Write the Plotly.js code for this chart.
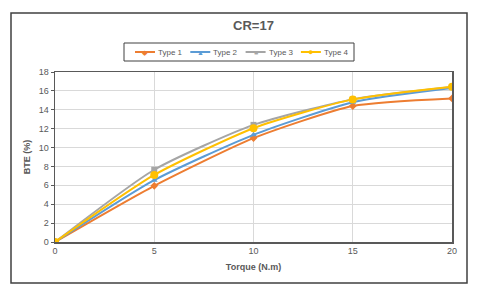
<!DOCTYPE html>
<html><head><meta charset="utf-8">
<script src="https://cdn.plot.ly/plotly-3.0.1.min.js"></script>
<style>html,body{margin:0;padding:0;background:#fff;}#c{width:480px;height:295px;}</style>
</head><body><div id="c"></div>
<script>
const torque = [0, 5, 10, 15, 20];
const type1 = [0, 5.95, 11.0, 14.4, 15.2];
const type2 = [0, 6.55, 11.35, 14.8, 16.3];
const type3 = [0, 7.65, 12.4, 15.1, 16.4];
const type4 = [0, 7.1, 12.05, 15.1, 16.45];
const names = ['Type 1', 'Type 2', 'Type 3', 'Type 4'];
const series = [type1, type2, type3, type4];
const colors = ['#ED7D31', '#5B9BD5', '#A5A5A5', '#FFC000'];
const symbols = ['diamond', 'triangle-up', 'square', 'circle'];
const legendGlyphs = ['◆', '▲', '■', '●'];
const sizes = [6, 6, 6, 8];

const traces = series.map((s, i) => ({
  x: torque, y: s, name: names[i], type: 'scatter', mode: 'lines+markers',
  line: {color: colors[i], width: 2, shape: 'spline', smoothing: 0.6},
  marker: {color: colors[i], symbol: symbols[i], size: sizes[i]}
}));

const L = 55, R = 452, T = 72, B = 242;
const px = x => (x - L) / (R - L);
const py = y => (B - y) / (B - T);
const font = 'Liberation Sans, Arial, sans-serif';

const shapes = [
  {type: 'rect', xref: 'paper', yref: 'paper', x0: px(11), x1: px(467), y0: py(283), y1: py(13),
    line: {color: '#404040', width: 1.5}, fillcolor: 'rgba(0,0,0,0)', layer: 'below'},
  {type: 'rect', xref: 'paper', yref: 'paper', x0: px(124), x1: px(354), y0: py(61), y1: py(43),
    line: {color: '#404040', width: 1}, fillcolor: 'rgba(0,0,0,0)'}
];
const annotations = [];
const legY = 52;
names.forEach((n, i) => {
  const x0 = 135 + i * 55.3;
  shapes.push({type: 'line', xref: 'paper', yref: 'paper', x0: px(x0), x1: px(x0 + 20), y0: py(legY), y1: py(legY),
    line: {color: colors[i], width: 2}});
  annotations.push({xref: 'paper', yref: 'paper', x: px(x0 + 10), y: py(legY), xanchor: 'center', yanchor: 'middle',
    text: legendGlyphs[i], showarrow: false, font: {size: i === 3 ? 9 : 7, color: colors[i]}});
  annotations.push({xref: 'paper', yref: 'paper', x: px(x0 + 21), y: py(legY), xanchor: 'left', yanchor: 'middle',
    text: n, showarrow: false, font: {size: 8, color: '#595959'}});
});

const layout = {
  width: 480, height: 295,
  margin: {l: L, r: 480 - R, t: T, b: 295 - B},
  paper_bgcolor: '#fff', plot_bgcolor: '#fff',
  font: {family: font, color: '#595959', size: 9},
  title: {text: '<b>CR=17</b>', x: 0.5, xref: 'paper', y: 1 - 25/295, yanchor: 'middle', xanchor: 'center',
    font: {size: 13, color: '#595959', family: font}},
  showlegend: false,
  xaxis: {range: [0, 20], tickvals: [0, 5, 10, 15, 20], showgrid: true, gridcolor: '#D9D9D9',
    zeroline: false, showline: true, linecolor: '#595959', linewidth: 1.5, mirror: true,
    ticks: '', tickfont: {size: 9, color: '#595959'},
    title: {text: '<b>Torque (N.m)</b>', font: {size: 9, color: '#595959'}, standoff: 8}},
  yaxis: {range: [0, 18], dtick: 2, showgrid: true, gridcolor: '#D9D9D9',
    zeroline: false, showline: true, linecolor: '#595959', linewidth: 1.5, mirror: true,
    ticks: 'outside', ticklen: 3, tickcolor: '#595959', tickfont: {size: 9, color: '#595959'},
    title: {text: '<b>BTE (%)</b>', font: {size: 9, color: '#595959'}, standoff: 6}},
  shapes: shapes,
  annotations: annotations
};
Plotly.newPlot('c', traces, layout, {displayModeBar: false, staticPlot: true});
</script></body></html>
